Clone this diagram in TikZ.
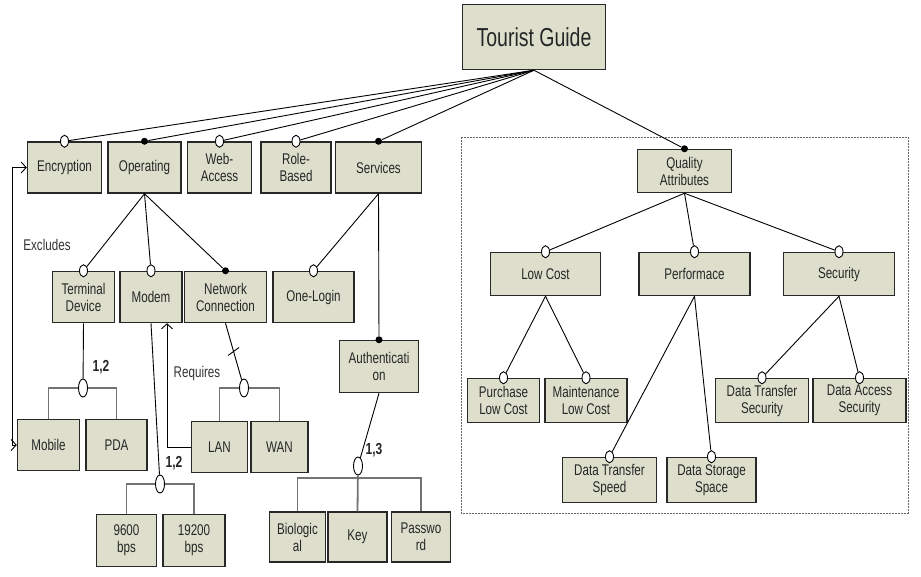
\documentclass[tikz,border=0pt]{standalone}
\usepackage{fontspec}
\setmainfont{Liberation Sans}[FakeStretch=0.75]
\usetikzlibrary{arrows.meta,positioning,shapes.geometric}
\definecolor{boxfill}{RGB}{221,223,204}
\definecolor{edge}{RGB}{40,40,40}
\tikzset{
  feat/.style={draw=edge,line width=1.5pt,fill=boxfill,align=center,
    font=\fontsize{15.5}{17}\selectfont,text=black!85,inner sep=1pt,
    minimum height=51pt},
  opt/.style={ellipse,draw=black,fill=white,line width=0.9pt,inner sep=0pt,
    minimum width=8pt,minimum height=12pt},
  mand/.style={circle,fill=black,inner sep=0pt,minimum size=7pt},
  grp/.style={ellipse,draw=black,fill=white,line width=0.9pt,inner sep=0pt,
    minimum width=9pt,minimum height=18pt},
  link/.style={line width=0.9pt,>={Straight Barb[length=5pt,width=11pt]}},
  bracket/.style={draw=black!55,line width=1.8pt},
  card/.style={font=\fontsize{16}{16}\selectfont\bfseries,text=black!85},
  note/.style={font=\fontsize{15.5}{16}\selectfont,text=black!80},
  qframe/.style={draw=black!60,line width=0.8pt,dash pattern=on 2pt off 1pt},
}

\begin{document}
\begin{tikzpicture}[x=1pt,y=-1pt,link]
\useasboundingbox (0,0) rectangle (921,576);
% root and first level
\node[feat,minimum width=143pt,minimum height=65pt,font=\fontsize{26}{26}\selectfont] (tg) at (534,37) {Tourist Guide};
\node[feat,minimum width=74pt] (enc) at (64.5,167.5) {Encryption};
\node[feat,minimum width=73pt,right=5pt of enc] (oper) {Operating};
\node[feat,minimum width=64pt,right=5pt of oper] (web) {Web-\\Access};
\node[feat,minimum width=70pt,right=8pt of web] (role) {Role-\\Based};
\node[feat,minimum width=86pt,right=3pt of role] (serv) {Services};
% second level
\node[feat,minimum width=62pt] (term) at (83.5,297) {Terminal\\Device};
\node[feat,minimum width=62pt,right=4pt of term] (modem) {Modem};
\node[feat,minimum width=82pt,right=1pt of modem] (net) {Network\\Connection};
\node[feat,minimum width=81pt,right=5pt of net] (login) {One-Login};
\node[feat,minimum width=79pt,minimum height=52pt] (auth) at (379,366.5) {Authenticati\\on};
% leaves
\node[feat,minimum width=62pt] (mob) at (48.5,445) {Mobile};
\node[feat,minimum width=61pt,right=5pt of mob] (pda) {PDA};
\node[feat,minimum width=56pt] (lan) at (219.5,447) {LAN};
\node[feat,minimum width=57pt,right=2pt of lan] (wan) {WAN};
\node[feat,minimum width=60pt,minimum height=52pt] (b9600) at (126.5,540.5) {9600\\bps};
\node[feat,minimum width=62pt,minimum height=52pt,right=5pt of b9600] (b19200) {19200\\bps};
\node[feat,minimum width=56pt,minimum height=50pt] (bio) at (297.5,537) {Biologic\\al};
\node[feat,minimum width=59pt,minimum height=50pt,right=1pt of bio] (key) {Key};
\node[feat,minimum width=59pt,minimum height=50pt,right=3pt of key] (pw) {Passwo\\rd};
% quality attributes
\draw[qframe] (461,137) rectangle (908,513);
\node[feat,minimum width=94pt,minimum height=43pt] (qa) at (684.5,171) {Quality\\Attributes};
\node[feat,minimum width=110pt,minimum height=43pt] (lcost) at (545.5,274) {Low Cost};
\node[feat,minimum width=111pt,minimum height=43pt,right=37pt of lcost] (perf) {Performace};
\node[feat,minimum width=111pt,minimum height=43pt,right=32pt of perf] (sec) {Security};
\node[feat,minimum width=72pt,minimum height=44pt] (plc) at (503.5,400.5) {Purchase\\Low Cost};
\node[feat,minimum width=82pt,minimum height=44pt,right=4pt of plc] (mlc) {Maintenance\\Low Cost};
\node[feat,minimum width=93pt,minimum height=44pt] (dtsec) at (762,400.5) {Data Transfer\\Security};
\node[feat,minimum width=93pt,minimum height=44pt,right=3pt of dtsec] (dasec) {Data Access\\Security};
\node[feat,minimum width=94pt,minimum height=45pt] (dts) at (609.5,480) {Data Transfer\\Speed};
\node[feat,minimum width=89pt,minimum height=45pt,right=9pt of dts] (dss) {Data Storage\\Space};
% markers
\foreach \n in {enc,web,role,term,modem,login,lcost,perf,sec,plc,mlc,dtsec,dasec,dts,dss}
  \node[opt] (o-\n) at (\n.north) {};
\foreach \n in {oper,serv,net,auth,qa}
  \node[mand] (m-\n) at (\n.north) {};
\node[grp] (g-td) at (83,388) {};
\node[grp] (g-nc) at (244,388) {};
\node[grp] (g-md) at (160,484) {};
\node[grp] (g-au) at (358,466) {};
\coordinate (j-au) at (358,478);
% connectors
\foreach \t in {o-enc,m-oper,o-web,o-role,m-serv,m-qa}
  \draw (tg.south) -- (\t);
\foreach \t in {o-term,o-modem,m-net}
  \draw (oper.south) -- (\t);
\draw (serv.south) -- (o-login); \draw (serv.south) -- (m-auth);
\draw (term.south) -- (g-td); \draw (modem.south) -- (g-md);
\draw (net.south) -- coordinate[pos=0.5] (tk) (g-nc);
\draw (tk) +(-5.5,4) -- +(5.5,-4);
\draw (auth.south) -- (g-au);
\foreach \t in {o-lcost,o-perf,o-sec}
  \draw (qa.south) -- (\t);
\draw (lcost.south) -- (o-plc); \draw (lcost.south) -- (o-mlc);
\draw (perf.south) -- (o-dts); \draw (perf.south) -- (o-dss);
\draw (sec.south) -- (o-dtsec); \draw (sec.south) -- (o-dasec);
% group brackets
\draw[bracket] (mob.north) |- (g-td) -| (pda.north);
\draw[bracket] (lan.north) |- (g-nc) -| (wan.north);
\draw[bracket] (b9600.north) |- (g-md) -| (b19200.north);
\draw[bracket] (bio.north) |- (j-au) -| (pw.north);
\draw[bracket] (key.north) -- (g-au);
\node[card] (c-td) at (101,367) {1,2};
\node[card] (c-md) at (174,463) {1,2};
\node[card] (c-au) at (374,450) {1,3};
% constraints
\draw[<->] (enc.west) -- ++(-14pt,0) |- (mob.west);
\draw[->] (lan.west) -| ([xshift=16pt]modem.south);
\node[note] (excl) at (47,245) {Excludes};
\node[note] (req) at (197,373) {Requires};
\end{tikzpicture}
\end{document}
